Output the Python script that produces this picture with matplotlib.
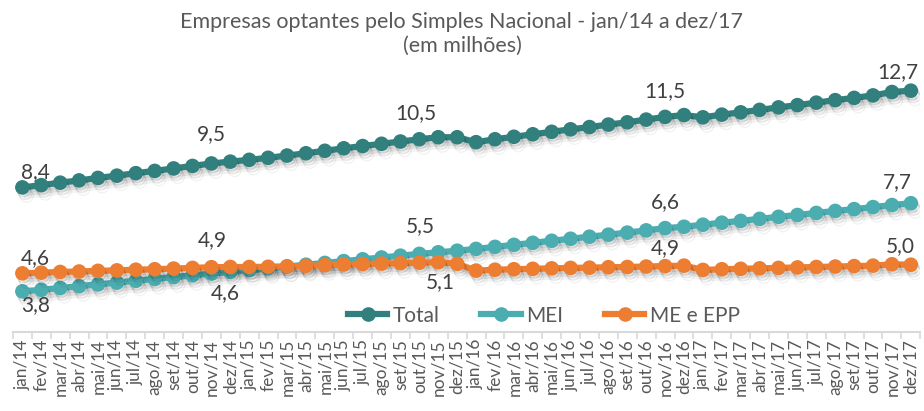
import matplotlib
matplotlib.use("Agg")
import matplotlib.pyplot as plt
import matplotlib.patheffects as pe

# dados (em milhões)
meses = ["jan", "fev", "mar", "abr", "mai", "jun", "jul", "ago", "set", "out", "nov", "dez"]
anos = ["14", "15", "16", "17"]
rotulos = [m + "/" + a for a in anos for m in meses]

total = [8.40, 8.50, 8.61, 8.71, 8.82, 8.92, 9.03, 9.13, 9.24, 9.35, 9.46, 9.54,
         9.62, 9.71, 9.81, 9.91, 10.02, 10.13, 10.23, 10.33, 10.43, 10.53, 10.62, 10.62,
         10.40, 10.53, 10.64, 10.75, 10.86, 10.97, 11.07, 11.18, 11.28, 11.40, 11.52, 11.60,
         11.50, 11.62, 11.72, 11.83, 11.94, 12.04, 12.15, 12.26, 12.36, 12.47, 12.62, 12.68]
mei = [3.80, 3.87, 3.95, 4.03, 4.11, 4.19, 4.27, 4.35, 4.43, 4.51, 4.59, 4.66,
       4.74, 4.82, 4.90, 4.98, 5.06, 5.14, 5.22, 5.30, 5.38, 5.46, 5.53, 5.60,
       5.68, 5.77, 5.86, 5.95, 6.04, 6.13, 6.22, 6.31, 6.40, 6.50, 6.60, 6.66,
       6.75, 6.84, 6.92, 7.01, 7.10, 7.18, 7.27, 7.36, 7.44, 7.53, 7.62, 7.70]
me_epp = [4.60, 4.63, 4.66, 4.68, 4.71, 4.73, 4.76, 4.78, 4.81, 4.84, 4.87, 4.88,
          4.88, 4.89, 4.91, 4.93, 4.96, 4.99, 5.01, 5.03, 5.05, 5.07, 5.09, 5.02,
          4.72, 4.76, 4.78, 4.80, 4.82, 4.84, 4.85, 4.87, 4.88, 4.90, 4.92, 4.94,
          4.75, 4.78, 4.80, 4.82, 4.84, 4.86, 4.88, 4.90, 4.92, 4.94, 5.00, 4.98]

# rótulos de dados: (índice, deslocamento x, deslocamento y) em pixels
rot_total = [(0, 13, 15), (10, 0, 29), (21, -4, 26), (34, 0, 26), (47, -13, 19)]
rot_mei = [(0, 13, -14), (10, 14, -20), (21, 1, 28), (34, 0, 26), (47, -13, 21)]
rot_me = [(0, 13, 15), (10, 1, 27), (22, 2, -20), (34, 0, 18), (47, -11, 19)]

cinza = "#595959"
plt.rcParams["font.family"] = ["Lato", "DejaVu Sans"]

fig = plt.figure(figsize=(9.24, 4.11), dpi=100)
ax = fig.add_axes([0.014, 0.192, 0.982, 0.66])

x = list(range(len(rotulos)))
# sombra suave (estilo Excel), algumas camadas deslocadas para baixo
sombra = [pe.SimpleLineShadow(offset=(1, -2), shadow_color="#000000", alpha=0.10),
          pe.SimpleLineShadow(offset=(2, -4), shadow_color="#000000", alpha=0.08),
          pe.SimpleLineShadow(offset=(3, -6), shadow_color="#000000", alpha=0.05),
          pe.Normal()]

series = [
    ("Total", total, "#31807D", rot_total),
    ("MEI", mei, "#4BADB0", rot_mei),
    ("ME e EPP", me_epp, "#ED7D31", rot_me),
]

for nome, vals, cor, rots in series:
    ax.plot(x, vals, color=cor, lw=4.5, marker="o", markersize=9.5,
            label=nome, path_effects=sombra, zorder=3)
    for i, dx, dy in rots:
        txt = f"{vals[i]:.1f}".replace(".", ",")
        ax.annotate(txt, (i, vals[i]), xytext=(dx, dy), textcoords="offset pixels",
                    ha="center", va="center", fontsize=15, color="#404040")

ax.set_xlim(-0.5, len(rotulos) - 0.5)
ax.set_ylim(2, 14)
ax.set_yticks([])
for s in ["top", "right", "left"]:
    ax.spines[s].set_visible(False)
ax.spines["bottom"].set_color("#D9D9D9")
ax.spines["bottom"].set_linewidth(1.5)

ax.set_xticks(x)
ax.set_xticklabels(rotulos, rotation=90, fontsize=12.5, color=cinza)
ax.tick_params(axis="x", which="major", length=0, pad=5)
ax.set_xticks([i - 0.5 for i in range(len(rotulos) + 1)], minor=True)
ax.tick_params(axis="x", which="minor", length=5, width=1.2, color="#D9D9D9")

leg = ax.legend(loc="lower center", bbox_to_anchor=(0.585, -0.045), ncol=3,
                frameon=False, fontsize=15, handlelength=1.9, columnspacing=2.0,
                handletextpad=0.25)
for t in leg.get_texts():
    t.set_color(cinza)
for h in leg.legend_handles:
    h.set_path_effects([])

fig.text(0.5, 0.972, "Empresas optantes pelo Simples Nacional - jan/14 a dez/17\n(em milhões)",
         ha="center", va="top", fontsize=15.5, color=cinza, linespacing=1.3)

fig.savefig("out.png", dpi=100)
